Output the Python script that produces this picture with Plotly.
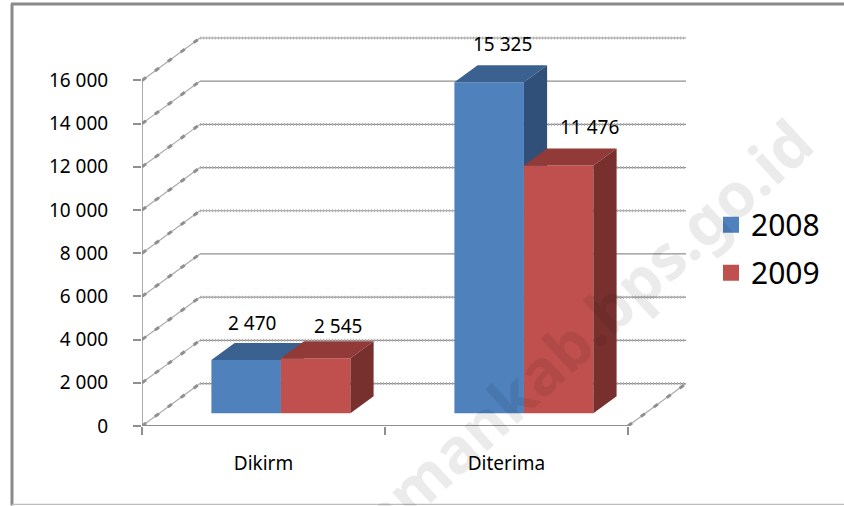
import plotly.graph_objects as go

CATEGORIES = ["Dikirm", "Diterima"]
SERIES = ["2008", "2009"]
VALUES_2008 = [2470, 15325]
VALUES_2009 = [2545, 11476]
LABELS_2008 = ["2 470", "15 325"]
LABELS_2009 = ["2 545", "11 476"]
Y_TICKS = [0, 2000, 4000, 6000, 8000, 10000, 12000, 14000, 16000]
Y_TICK_TEXT = ["0", "2 000", "4 000", "6 000", "8 000", "10 000", "12 000", "14 000", "16 000"]
WATERMARK = "amankab.bps.go.id"

W, H = 844, 506
L, R, T, B = 142, 695, 30, 426.5
X_PX = 243.0
Y_PX = 346.0 / 16000
XMAX = (R - L) / X_PX
YMAX = (B - T) / Y_PX
DX = 58 / X_PX
DY = 42.5 / Y_PX
FRONT, BACK = 0.30, 0.70
BAR_W = 69.5 / X_PX
BASE = FRONT * DY
GREY = "#8f8f8f"
FONT = "Noto Sans"
BLUE = ("#4F81BD", "#3A6190", "#30507A")
RED = ("#C0504D", "#913A38", "#78302E")
SOLID_GRID = {6000, 14000}
LABEL_SHIFT_2008 = [(6, 37), (13, 38)]
LABEL_SHIFT_2009 = [(22, 32), (31, 38)]


def px(x):
    return (x - L) / (R - L)


def py(y):
    return (B - y) / (B - T)


shapes = []
for v in Y_TICKS:
    wavy = v not in SOLID_GRID
    shapes.append(dict(type="line", xref="x", yref="y", x0=DX, x1=2 + DX, y0=v + DY, y1=v + DY,
                       layer="below", line=dict(color=GREY, width=1.2)))
    if wavy:
        shapes.append(dict(type="line", xref="x", yref="y", x0=DX, x1=2 + DX, y0=v + DY, y1=v + DY,
                           layer="below", line=dict(color="#b5b5b5", width=3, dash="1px,2px")))
    shapes.append(dict(type="line", xref="x", yref="y", x0=0, x1=DX, y0=v, y1=v + DY,
                       layer="below", line=dict(color="#ababab", width=1.2)))
    shapes.append(dict(type="line", xref="x", yref="y", x0=0, x1=DX, y0=v, y1=v + DY,
                       layer="below", line=dict(color=GREY, width=3, dash="5px,11px")))
shapes += [
    dict(type="line", xref="x", yref="y", x0=0, x1=0, y0=0, y1=16000, layer="below", line=dict(color=GREY, width=1.5)),
    dict(type="line", xref="x", yref="y", x0=0, x1=2, y0=0, y1=0, layer="below", line=dict(color=GREY, width=2)),
    dict(type="line", xref="x", yref="y", x0=2, x1=2 + DX, y0=0, y1=DY, layer="below", line=dict(color="#ababab", width=1.2)),
    dict(type="line", xref="x", yref="y", x0=2, x1=2 + DX, y0=0, y1=DY, layer="below", line=dict(color=GREY, width=3, dash="5px,11px")),
    dict(type="line", xref="paper", yref="paper", x0=px(12), x1=px(12), y0=py(4), y1=py(506), line=dict(color="#8a8a8a", width=3)),
    dict(type="line", xref="paper", yref="paper", x0=px(11), x1=px(844), y0=py(4), y1=py(4), line=dict(color="#8a8a8a", width=3)),
    dict(type="line", xref="paper", yref="paper", x0=px(12), x1=px(844), y0=py(505), y1=py(505), line=dict(color="#bdbdbd", width=1.2)),
]

fig = go.Figure()
annotations = []
for k, (name, vals, labels, shifts, col, xa, ya, off) in enumerate([
    (SERIES[0], VALUES_2008, LABELS_2008, LABEL_SHIFT_2008, BLUE, "x", "y", -BAR_W),
    (SERIES[1], VALUES_2009, LABELS_2009, LABEL_SHIFT_2009, RED, "x2", "y2", 0.0),
]):
    centers = [i + 0.5 + FRONT * DX for i in range(len(CATEGORIES))]
    fig.add_trace(go.Bar(x=centers, y=vals, base=[BASE] * len(vals), width=[BAR_W] * len(vals),
                         offset=[off] * len(vals), marker=dict(color=col[0], line=dict(width=0)),
                         name=name, showlegend=False, xaxis=xa, yaxis=ya, hoverinfo="skip"))
    d_x = (BACK - FRONT) * DX
    d_y = (BACK - FRONT) * DY
    for c, v, lab, (sx, sy) in zip(centers, vals, labels, shifts):
        x0, x1 = c + off, c + off + BAR_W
        top = BASE + v
        fig.add_trace(go.Scatter(x=[x0, x1, x1 + d_x, x0 + d_x, x0], y=[top, top, top + d_y, top + d_y, top],
                                 mode="lines", fill="toself", fillcolor=col[1], line=dict(width=0, color=col[1]),
                                 showlegend=False, xaxis=xa, yaxis=ya, hoverinfo="skip"))
        fig.add_trace(go.Scatter(x=[x1, x1 + d_x, x1 + d_x, x1, x1], y=[top, top + d_y, BASE + d_y, BASE, top],
                                 mode="lines", fill="toself", fillcolor=col[2], line=dict(width=0, color=col[2]),
                                 showlegend=False, xaxis=xa, yaxis=ya, hoverinfo="skip"))
        annotations.append(dict(x=x0 + BAR_W / 2, y=top, xref="x", yref="y", text=lab, showarrow=False,
                                xshift=sx, yshift=sy, xanchor="center", yanchor="middle",
                                font=dict(family=FONT, size=19, color="black")))
    fig.add_trace(go.Scatter(x=[None], y=[None], mode="markers", name=name, legendgroup=name,
                             marker=dict(symbol="square", size=18, color=col[0]), hoverinfo="skip"))

annotations.append(dict(x=px(584), y=py(330), xref="paper", yref="paper", text=WATERMARK, showarrow=False,
                        textangle=-42.5, xanchor="center", yanchor="middle",
                        font=dict(family=FONT, size=62, color="rgba(0,0,0,0.08)", weight="bold")))

fig.update_layout(
    width=W, height=H, margin=dict(l=L, r=W - R, t=T, b=H - B, pad=0),
    paper_bgcolor="white", plot_bgcolor="rgba(0,0,0,0)", barmode="overlay",
    shapes=shapes, annotations=annotations, hovermode=False,
    font=dict(family=FONT, size=19, color="black"),
    legend=dict(x=px(711), y=py(199), xanchor="left", yanchor="top", font=dict(family=FONT, size=30, color="black"),
                tracegroupgap=6, itemwidth=30, bgcolor="rgba(0,0,0,0)"),
    xaxis=dict(range=[0, XMAX], tickmode="array", tickvals=[0.5, 1.5], ticktext=CATEGORIES, ticks="",
               showgrid=False, zeroline=False, showline=False, ticklabelstandoff=24,
               minor=dict(tick0=0, dtick=1, ticks="outside", ticklen=8, tickcolor=GREY, tickwidth=2, showgrid=False)),
    yaxis=dict(range=[0, YMAX], tickmode="array", tickvals=Y_TICKS, ticktext=Y_TICK_TEXT, ticks="outside",
               ticklen=8, tickcolor=GREY, tickwidth=2, showgrid=False, zeroline=False, showline=False,
               ticklabelstandoff=21),
    xaxis2=dict(range=[0, XMAX], overlaying="x", visible=False, anchor="y2"),
    yaxis2=dict(range=[0, YMAX], overlaying="y", visible=False, anchor="x2"),
)
fig.write_html("out.html", config=dict(displayModeBar=False),
               post_script="document.body.style.margin='0';document.body.style.overflow='hidden';")
